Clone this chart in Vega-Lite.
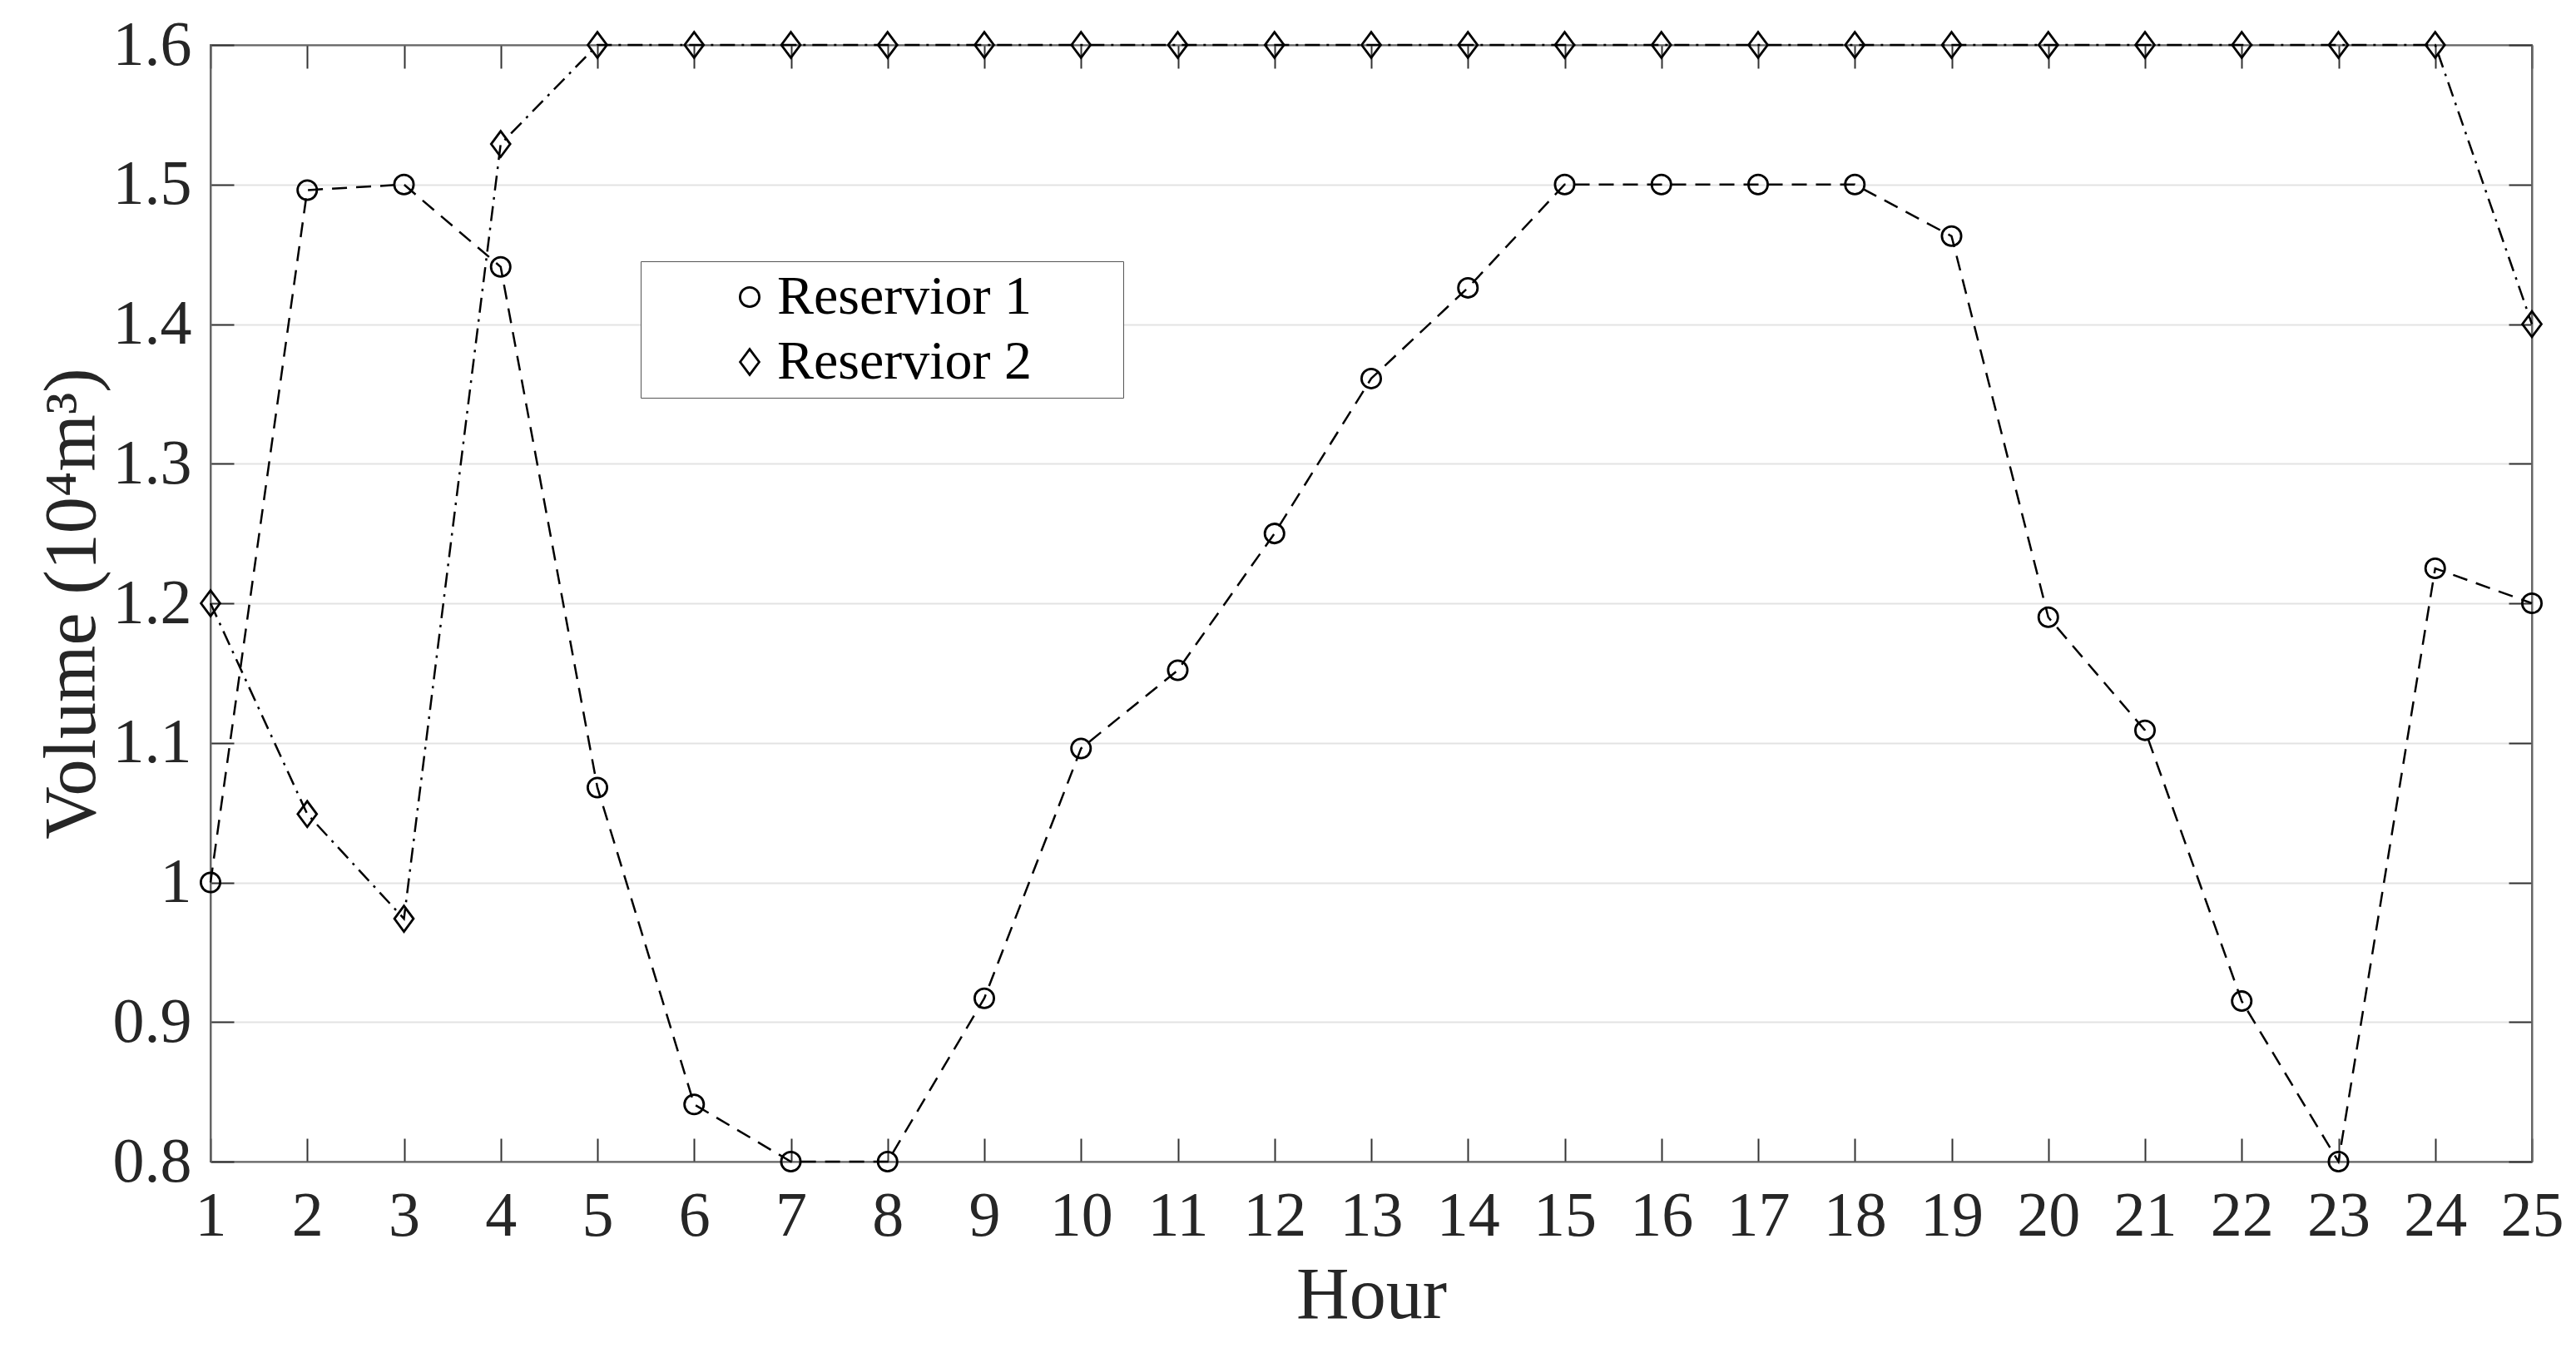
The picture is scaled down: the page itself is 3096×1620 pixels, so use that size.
{
  "$schema": "https://vega.github.io/schema/vega-lite/v6.json",
  "autosize": {"type": "none"},
  "padding": {"left": 253, "top": 54, "right": 53, "bottom": 224},
  "width": 2790,
  "height": 1342,
  "background": "white",
  "config": {
    "font": "Liberation Serif",
    "view": {"stroke": "#666666", "strokeWidth": 2},
    "axis": {
      "labelFont": "Liberation Serif",
      "titleFont": "Liberation Serif",
      "labelColor": "#262626",
      "titleColor": "#262626",
      "labelFontSize": 76,
      "titleFontSize": 88,
      "titleFontWeight": "normal",
      "domainColor": "#666666",
      "domainWidth": 2,
      "tickColor": "#333333",
      "tickWidth": 2,
      "tickSize": -28,
      "gridColor": "#e3e3e3",
      "gridWidth": 2
    }
  },
  "data": {
    "values": [
      {"hour": 1, "series": "Reservior 1", "volume": 1.0},
      {"hour": 2, "series": "Reservior 1", "volume": 1.496},
      {"hour": 3, "series": "Reservior 1", "volume": 1.5},
      {"hour": 4, "series": "Reservior 1", "volume": 1.441},
      {"hour": 5, "series": "Reservior 1", "volume": 1.068},
      {"hour": 6, "series": "Reservior 1", "volume": 0.841},
      {"hour": 7, "series": "Reservior 1", "volume": 0.8},
      {"hour": 8, "series": "Reservior 1", "volume": 0.8},
      {"hour": 9, "series": "Reservior 1", "volume": 0.917},
      {"hour": 10, "series": "Reservior 1", "volume": 1.096},
      {"hour": 11, "series": "Reservior 1", "volume": 1.152},
      {"hour": 12, "series": "Reservior 1", "volume": 1.25},
      {"hour": 13, "series": "Reservior 1", "volume": 1.361},
      {"hour": 14, "series": "Reservior 1", "volume": 1.426},
      {"hour": 15, "series": "Reservior 1", "volume": 1.5},
      {"hour": 16, "series": "Reservior 1", "volume": 1.5},
      {"hour": 17, "series": "Reservior 1", "volume": 1.5},
      {"hour": 18, "series": "Reservior 1", "volume": 1.5},
      {"hour": 19, "series": "Reservior 1", "volume": 1.463},
      {"hour": 20, "series": "Reservior 1", "volume": 1.19},
      {"hour": 21, "series": "Reservior 1", "volume": 1.109},
      {"hour": 22, "series": "Reservior 1", "volume": 0.915},
      {"hour": 23, "series": "Reservior 1", "volume": 0.8},
      {"hour": 24, "series": "Reservior 1", "volume": 1.225},
      {"hour": 25, "series": "Reservior 1", "volume": 1.2},
      {"hour": 1, "series": "Reservior 2", "volume": 1.2},
      {"hour": 2, "series": "Reservior 2", "volume": 1.049},
      {"hour": 3, "series": "Reservior 2", "volume": 0.974},
      {"hour": 4, "series": "Reservior 2", "volume": 1.529},
      {"hour": 5, "series": "Reservior 2", "volume": 1.6},
      {"hour": 6, "series": "Reservior 2", "volume": 1.6},
      {"hour": 7, "series": "Reservior 2", "volume": 1.6},
      {"hour": 8, "series": "Reservior 2", "volume": 1.6},
      {"hour": 9, "series": "Reservior 2", "volume": 1.6},
      {"hour": 10, "series": "Reservior 2", "volume": 1.6},
      {"hour": 11, "series": "Reservior 2", "volume": 1.6},
      {"hour": 12, "series": "Reservior 2", "volume": 1.6},
      {"hour": 13, "series": "Reservior 2", "volume": 1.6},
      {"hour": 14, "series": "Reservior 2", "volume": 1.6},
      {"hour": 15, "series": "Reservior 2", "volume": 1.6},
      {"hour": 16, "series": "Reservior 2", "volume": 1.6},
      {"hour": 17, "series": "Reservior 2", "volume": 1.6},
      {"hour": 18, "series": "Reservior 2", "volume": 1.6},
      {"hour": 19, "series": "Reservior 2", "volume": 1.6},
      {"hour": 20, "series": "Reservior 2", "volume": 1.6},
      {"hour": 21, "series": "Reservior 2", "volume": 1.6},
      {"hour": 22, "series": "Reservior 2", "volume": 1.6},
      {"hour": 23, "series": "Reservior 2", "volume": 1.6},
      {"hour": 24, "series": "Reservior 2", "volume": 1.6},
      {"hour": 25, "series": "Reservior 2", "volume": 1.4}
    ]
  },
  "resolve": {"axis": {"x": "independent", "y": "independent"}},
  "layer": [
    {
      "layer": [
        {
          "transform": [{"filter": "datum.series === 'Reservior 1'"}],
          "mark": {"type": "line", "color": "black", "strokeWidth": 2.5, "strokeDash": [18, 11]},
          "encoding": {
            "x": {"field": "hour", "type": "quantitative", "scale": {"domain": [1, 25], "nice": false, "zero": false}},
            "y": {"field": "volume", "type": "quantitative", "scale": {"domain": [0.8, 1.6], "nice": false, "zero": false}}
          }
        },
        {
          "transform": [{"filter": "datum.series === 'Reservior 2'"}],
          "mark": {"type": "line", "color": "black", "strokeWidth": 2.5, "strokeDash": [18, 8, 3, 8]},
          "encoding": {
            "x": {"field": "hour", "type": "quantitative"},
            "y": {"field": "volume", "type": "quantitative"}
          }
        }
      ],
      "encoding": {
        "x": {
          "field": "hour", "type": "quantitative",
          "axis": {"orient": "bottom", "values": [1,2,3,4,5,6,7,8,9,10,11,12,13,14,15,16,17,18,19,20,21,22,23,24,25], "grid": false, "labelPadding": 56, "title": "Hour", "titlePadding": 14, "labelFlush": false}
        },
        "y": {
          "field": "volume", "type": "quantitative",
          "axis": {"orient": "left", "values": [0.8,0.9,1.0,1.1,1.2,1.3,1.4,1.5,1.6], "format": ".1~f", "grid": true, "labelPadding": 51, "title": "Volume (10⁴m³)", "titlePadding": 4, "labelFlush": false}
        }
      }
    },
    {
      "mark": {"type": "point", "filled": false, "stroke": "black", "strokeWidth": 2.8, "opacity": 1, "size": 1100},
      "encoding": {
        "x": {
          "field": "hour", "type": "quantitative",
          "axis": {"orient": "top", "values": [1,2,3,4,5,6,7,8,9,10,11,12,13,14,15,16,17,18,19,20,21,22,23,24,25], "labels": false, "grid": false, "title": null}
        },
        "y": {
          "field": "volume", "type": "quantitative",
          "axis": {"orient": "right", "values": [0.8,0.9,1.0,1.1,1.2,1.3,1.4,1.5,1.6], "labels": false, "grid": false, "title": null}
        },
        "shape": {
          "field": "series", "type": "nominal",
          "scale": {"domain": ["Reservior 1", "Reservior 2"], "range": ["M-0.7,0A0.7,0.7 0 1,0 0.7,0A0.7,0.7 0 1,0 -0.7,0Z", "M-0.69,0L0,-0.93L0.69,0L0,0.93Z"]},
          "legend": {
            "title": " ",
            "titleOrient": "right",
            "titlePadding": 100,
            "titleFontSize": 1,
            "orient": "none",
            "legendX": 517,
            "legendY": 260,
            "strokeColor": "#555555",
            "fillColor": "white",
            "padding": 10,
            "labelFont": "Liberation Serif",
            "labelFontSize": 66,
            "labelColor": "black",
            "labelLimit": 1000,
            "labelOffset": 0,
            "symbolOffset": 88,
            "rowPadding": 12,
            "symbolSize": 1100,
            "symbolStrokeColor": "black",
            "symbolStrokeWidth": 2.8,
            "symbolFillColor": "white",
            "encode": {
              "symbols": {
                "shape": {"value": {"expr": "datum.value === 'Reservior 1' ? 'M-0.7,0A0.7,0.7 0 1,0 0.7,0A0.7,0.7 0 1,0 -0.7,0Z M-1.48,0L1.48,0' : 'M-0.69,0L0,-0.93L0.69,0L0,0.93Z M-1.48,0L-0.3,0 M-0.1,0L0.25,0 M1.25,0L1.42,0'"}}
              }
            }
          }
        }
      }
    }
  ]
}
